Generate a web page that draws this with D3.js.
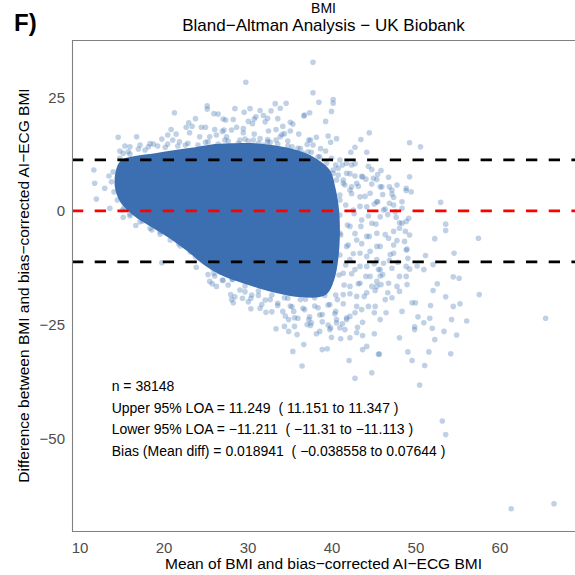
<!DOCTYPE html>
<html>
<head>
<meta charset="utf-8">
<script src="https://cdn.jsdelivr.net/npm/d3@7"></script>
<style>
  html, body { margin: 0; padding: 0; background: #fff; }
  svg { display: block; font-family: "Liberation Sans", Arial, Helvetica, sans-serif; }
</style>
</head>
<body>
<svg id="chart" width="575" height="575"></svg>
<script>
// ---- Bland–Altman data: x = mean of the two BMI measures, y = difference ----

// Outline of the saturated bulk of the 38,148 observations
const coreMean = [14.4, 15.0, 16.6, 19.0, 21.4, 23.8, 26.1, 28.5, 30.9, 33.3, 35.3, 36.8, 38.2, 39.8, 40.5, 40.9,
                  41.0, 40.8, 40.3, 39.3, 36.5, 33.3, 30.3, 27.3, 25.0, 22.8, 20.8, 18.7, 16.5, 14.9, 14.2];
const coreDiff = [9.4, 11.2, 12.1, 12.7, 13.4, 14.0, 14.7, 14.9, 14.9, 14.4, 13.7, 12.8, 11.5, 9.0, 4.8, 0.2,
                  -5.3, -10.7, -15.3, -18.5, -19.0, -18.0, -16.4, -14.5, -12.1, -8.8, -6.1, -3.7, -1.1, 1.8, 5.3];

// Individual observations outside the bulk: [mean, difference]
const upperScatter = [
  [37.8,32.7],[29.8,28.3],[37.8,26.0],[38.5,23.9],[21.3,21.6],[25.2,23.1],[25.2,22.4],[28.5,22.5],[29.6,21.7],[30.3,22.5],
  [31.5,22.1],[32.8,22.0],[33.3,23.6],[33.9,22.6],[34.6,23.7],[37.4,21.6],[36.8,21.1],[26.0,21.4],[27.1,20.2],[27.4,20.0],
  [28.3,20.1],[30.1,19.7],[30.8,20.2],[31.9,21.0],[32.4,20.4],[33.6,20.3],[35.1,19.5],[35.4,19.1],[23.8,20.3],[23.0,19.4],
  [22.7,18.4],[23.4,18.6],[24.5,18.4],[20.9,17.9],[21.5,16.9],[14.6,16.2],[16.8,16.3],[19.8,15.8],[26.1,17.9],[27.2,17.8],
  [28.1,17.8],[29.5,17.2],[30.8,16.9],[32.5,17.6],[33.4,17.9],[34.1,16.8],[35.1,17.6],[36.1,16.9],[37.3,15.6],[38.2,16.2],
  [40.2,24.5],[40.2,23.7],[40.0,21.9],[36.7,20.9],[39.3,19.7],[40.6,15.9],[39.9,15.1],[39.6,16.5],
  [26.5,21.3],[31.0,20.7],[32.1,19.6],[25.0,18.4],[27.0,17.5],[28.7,18.4],[29.5,18.1],[30.6,19.2],[23.1,17.2],[20.5,16.7],
  [18.4,14.8],[18.8,14.7],[15.4,14.3],[16.0,14.1],[14.8,13.2],[15.2,12.7],[17.2,14.5],[21.1,15.6],[21.9,15.2],[24.3,16.3],
  [25.5,16.3],[26.3,16.7],[27.5,16.3],[29.1,15.6],[30.7,15.6],[31.5,15.9],[31.9,14.5],
  [34.2,18.6],[34.4,17.0],[33.9,16.3],[32.4,15.7],[33.4,15.6],[37.5,15.6],[37.1,14.6],[37.8,14.5],[38.7,13.7],[39.3,13.2],
  [36.3,13.7],[35.3,14.1],[36.6,12.7],[38.6,11.9],[40.0,11.6],[41.0,11.2],[41.8,10.5],[42.4,10.1],[40.5,10.1],[40.8,9.4],
  [20.2,14.0],[22.6,14.5],[25.0,15.1],[27.3,15.6],[29.7,15.8],[32.7,15.1],[34.8,15.4],[37.6,12.9],[17.8,13.4],[16.0,12.5]
];

// Points crowding the upper edge of the bulk
const upperEdge = [
  [14.8,11.6],[15.8,13.0],[17.0,13.6],[18.2,14.1],[19.3,14.3],[20.5,14.7],[21.7,14.3],[22.9,14.9],[24.1,14.5],[25.3,15.2],
  [26.5,14.7],[27.7,15.4],[28.9,14.9],[30.1,15.4],[31.3,14.9],[32.4,15.2],[33.6,14.7],[34.8,14.3],[36.0,13.8],[37.2,13.0],
  [38.4,11.9],[39.4,10.5],[40.2,9.0]
];

const leftScatter = [
  [11.7,9.0],[11.8,6.1],[12.0,2.6],[13.0,5.0],[13.6,0.6],[13.5,7.7],[15.2,-1.4],[16.7,-3.2],[18.6,-4.2],
  [14.0,8.6],[13.8,6.4],[14.1,4.2],[14.5,2.4],[15.3,0.7],[16.0,-0.7],[17.5,-2.2],[19.6,-4.6],[21.8,-7.2],[23.8,-10.1],
  [25.9,-12.7],[28.2,-15.1]
];

// Points crowding the lower (diagonal) edge of the bulk
const lowerEdge = [
  [15.1,0.2],[16.0,-1.1],[17.2,-2.4],[18.4,-3.8],[19.6,-5.1],[20.8,-6.4],[22.0,-7.7],[23.2,-9.0],[24.3,-10.4],[25.5,-11.9],
  [26.7,-13.4],[28.2,-15.0],[29.7,-16.5],[31.3,-17.6],[32.9,-18.5],[34.8,-19.2],[36.9,-19.4],
  [27.7,-16.3],[29.1,-17.4],[30.5,-18.5],[32.1,-19.6],[33.6,-20.3],[35.1,-20.9],[36.6,-21.4],[38.0,-20.9],[28.5,-18.9],
  [30.1,-20.0],[31.5,-21.4],[32.9,-22.2],[34.5,-23.1],[36.0,-23.6],[37.4,-23.3],[38.9,-24.4],[27.0,-15.2],[26.1,-14.3]
];

const lowerScatter = [
  [19.8,-11.4],[23.9,-12.4],[25.5,-15.5],[26.3,-16.6],[27.1,-15.3],[28.1,-19.5],[28.3,-20.2],[30.4,-21.5],[32.2,-22.3],[33.4,-25.9],
  [34.4,-25.4],[34.9,-26.5],[35.6,-25.4],[35.9,-27.2],[35.4,-30.9],[36.7,-29.4],[36.5,-34.1],[37.1,-25.0],[37.3,-23.9],[34.9,-23.9],
  [35.6,-23.5],[37.5,-25.2],[38.2,-27.0],[38.9,-30.5],[39.5,-30.3],[42.1,-32.9],[42.8,-36.8],[44.8,-35.6],[43.7,-30.5],[44.2,-29.8],
  [45.6,-31.5],[41.1,-28.1],[42.2,-27.9],[30.4,-19.2],[29.4,-19.2],[25.8,-16.0],[25.3,-14.0],[26.0,-13.7],[28.0,-18.4],[34.2,-22.1],
  [35.5,-22.1],[39.8,-26.1],[41.0,-25.7],[41.6,-26.1],[40.6,-23.9],[41.8,-23.9],[43.0,-26.8],[43.7,-27.4],[45.1,-27.0],[45.7,-31.5],
  [40.0,-27.8],[43.1,-25.6],[43.7,-24.5],[45.8,-23.9],[45.1,-22.4],[46.5,-22.4],[48.4,-22.1],[49.6,-20.2],
  [45.2,-21.0],[44.4,-21.0],[43.6,-21.7],[42.8,-22.4],[41.8,-23.5],[40.6,-24.6],[39.9,-25.7],[38.6,-26.5],[37.6,-24.6],
  [29.7,-17.8],[31.3,-18.6],[32.7,-19.5],[34.4,-19.1],[36.3,-19.5],[38.0,-19.1],[39.2,-18.6],[31.7,-20.6],[33.6,-20.8],
  [35.3,-21.1],[36.8,-21.7],[38.4,-21.3],[39.8,-20.6],[40.7,-19.5],[40.5,-22.1],[38.9,-22.8],
  [53.2,-46.2],[53.6,-49.2],[61.4,-65.5],[66.5,-64.4]
];

// Crowded band just right of the bulk
const rightEdge = [
  [41.3,10.1],[42.8,10.4],[44.4,9.8],[40.8,7.9],[42.2,8.2],[43.6,7.6],[45.5,8.0],[41.6,5.7],[43.2,5.4],[44.8,5.9],
  [41.0,3.5],[42.4,3.8],[44.0,3.2],[46.1,3.6],[41.7,1.3],[43.4,1.0],[45.1,1.5],[41.0,-0.9],[42.7,-0.6],[44.4,-1.1],
  [46.7,-0.8],[41.9,-3.1],[43.5,-3.4],[45.3,-2.9],[41.1,-5.3],[42.8,-5.0],[44.5,-5.6],[46.4,-5.2],[42.0,-7.5],[43.6,-7.2],
  [45.4,-7.8],[41.0,-9.7],[42.6,-9.4],[44.2,-10.0],[47.0,-9.6],[41.7,-11.9],[43.4,-12.2],[45.1,-11.6],[40.9,-14.1],[42.4,-13.8],
  [44.1,-14.4],[46.1,-14.0],[41.5,-16.3],[43.2,-16.0],[44.8,-16.6],[40.5,-18.5],[42.2,-18.2],[43.9,-18.8],[39.6,-20.7],[41.4,-20.4],
  [43.0,-21.0],[38.6,-22.9],[40.4,-22.6],[42.2,-23.2],[39.6,-25.1],[41.3,-24.8]
];

const rightScatter = [
  [49.3,15.0],[50.6,14.1],[42.8,14.0],[42.3,12.9],[44.2,12.9],[44.8,9.1],[45.9,8.9],[46.8,7.4],[49.3,7.5],[45.4,6.9],
  [44.1,7.0],[46.0,5.3],[47.2,4.6],[47.2,3.7],[47.4,3.0],[48.9,4.5],[49.5,4.2],[48.4,2.0],[53.0,1.9],[46.4,0.4],
  [45.5,2.0],[53.6,-2.9],[53.6,-4.3],[57.5,-6.0],[47.7,-1.4],[48.1,-2.6],[49.2,-1.6],[52.3,-6.1],[54.6,-9.3],[51.2,-9.8],
  [52.1,-11.8],[51.0,-12.9],[54.5,-14.5],[55.2,-14.8],[52.6,-16.0],[52.1,-17.5],[57.6,-18.4],[53.6,-18.9],[54.5,-21.0],[55.3,-20.4],
  [51.8,-20.8],[50.0,-20.2],[50.3,-23.3],[51.7,-23.6],[54.3,-23.9],[56.1,-24.2],[65.5,-23.6],[51.0,-24.6],[49.9,-25.5],[49.9,-26.1],
  [52.0,-25.8],[53.4,-26.5],[54.9,-27.3],[52.3,-28.3],[48.1,-27.9],[49.1,-31.0],[51.6,-31.0],[54.2,-31.4],[49.6,-32.9],[51.1,-34.0],
  [50.5,-38.3],
  [47.8,-16.6],[48.1,-14.4],[48.9,-12.2],[49.1,-10.4],[48.9,-8.6],[48.7,-6.7],[49.3,-5.3],[48.1,-3.8],[48.9,-2.3],[48.4,0.6],
  [47.6,-0.2],[46.8,-6.0],[47.4,-9.3],[46.2,-11.5],[45.6,-12.9],[45.4,-15.5],[45.9,-16.2],[46.7,-18.0],[47.2,-19.1],[46.4,-19.5],
  [44.5,17.2],[43.5,15.7],
  [46.9,5.3],[47.8,5.7],[48.9,5.0],[41.8,8.3],[42.8,7.7],[42.4,5.3],[41.4,6.1],[40.6,6.8],[46.9,1.7],[47.4,1.3],
  [46.2,0.2],[48.4,-2.7],[47.4,-4.5],[48.8,-4.5],[47.8,-6.5],[49.0,-8.4],[47.4,-7.5],[46.9,-10.9],[47.9,-11.3],[50.2,-12.1],
  [49.3,-12.8],[48.9,-14.4],[49.0,-16.2],[47.2,-12.6],[46.8,-15.9],[45.8,-14.3],[48.1,-17.7],[45.2,-17.5],
  [40.2,8.3],[41.4,6.8],[43.0,6.1],[43.7,7.5],[45.0,7.2],[45.8,5.3],[44.6,3.9],[43.4,3.1],[42.2,4.6],[41.0,2.4],
  [45.4,2.0],[44.2,0.9],[42.6,0.2],[45.8,-1.3],[44.8,-2.7],[43.6,-2.0],[42.2,-3.4],[41.0,-4.9],[45.4,-4.9],[44.2,-5.6],
  [43.0,-6.4],[41.8,-7.8],[45.8,-7.8],[44.6,-8.9],[43.4,-9.3],[42.2,-10.7],[45.4,-10.7],[44.2,-12.2],[42.8,-12.9],[41.4,-13.7],
  [45.8,-12.9],[44.6,-14.4],[43.4,-15.9],[42.2,-16.6],[45.4,-16.6],[44.2,-18.0],[43.0,-18.8],[41.4,-18.4]
];

// Summary statistics
const nObs = 38148;
const upperLOA = 11.249, upperLOAci = [11.151, 11.347];
const lowerLOA = -11.211, lowerLOAci = [-11.31, -11.113];
const meanDiff = 0.018941, meanDiffCi = [-0.038558, 0.07644];

// Axis ticks
const xTicks = [10, 20, 30, 40, 50, 60];
const yTicks = [25, 0, -25, -50];

// ---- layout ----
const svg = d3.select('#chart');
const panel = { left: 72, top: 40, right: 575, bottom: 531 };
const x = d3.scaleLinear().domain([9.1, 69.0]).range([panel.left, panel.right]);
const y = d3.scaleLinear().domain([-70.4, 37.6]).range([panel.bottom, panel.top]);
const pointColor = '#3b6fb1';
const minus = v => String(v).replace('-', '\u2212');

svg.append('defs').append('clipPath').attr('id', 'panelClip')
  .append('rect')
  .attr('x', panel.left).attr('y', panel.top)
  .attr('width', panel.right - panel.left + 10).attr('height', panel.bottom - panel.top);

const plot = svg.append('g').attr('clip-path', 'url(#panelClip)');

// saturated bulk of overlapping points
plot.append('path')
  .datum(d3.zip(coreMean, coreDiff))
  .attr('d', d3.line().x(d => x(d[0])).y(d => y(d[1])).curve(d3.curveCatmullRomClosed.alpha(0.5)))
  .attr('fill', pointColor);

// individual semi-transparent points
const scatter = [...upperScatter, ...upperEdge, ...leftScatter, ...lowerEdge, ...lowerScatter, ...rightEdge, ...rightScatter];
plot.append('g').selectAll('circle').data(scatter).join('circle')
  .attr('cx', d => x(d[0]))
  .attr('cy', d => y(d[1]))
  .attr('r', 2.8)
  .attr('fill', pointColor)
  .attr('fill-opacity', 0.32);

// bias and limits of agreement
const refLines = [
  { value: upperLOA, color: '#000000' },
  { value: meanDiff, color: '#ff0000' },
  { value: lowerLOA, color: '#000000' }
];
plot.append('g').selectAll('line').data(refLines).join('line')
  .attr('x1', panel.left).attr('x2', panel.right + 10)
  .attr('y1', d => y(d.value)).attr('y2', d => y(d.value))
  .attr('stroke', d => d.color)
  .attr('stroke-width', 2.8)
  .attr('stroke-dasharray', '11.3 11.4');

// panel border (left, top, bottom)
svg.append('path')
  .attr('d', `M${panel.right + 5},${panel.top + 0.5}H${panel.left + 0.5}V${panel.bottom + 0.5}H${panel.right + 5}`)
  .attr('fill', 'none')
  .attr('stroke', '#808080')
  .attr('stroke-width', 1.1);

// axes
const xAxis = svg.append('g')
  .attr('transform', `translate(0,${panel.bottom})`)
  .call(d3.axisBottom(x).tickValues(xTicks).tickSize(0).tickPadding(11.5));
const yAxis = svg.append('g')
  .attr('transform', `translate(${panel.left},0)`)
  .call(d3.axisLeft(y).tickValues(yTicks).tickSize(0).tickPadding(7));
[xAxis, yAxis].forEach(g => {
  g.select('.domain').remove();
  g.selectAll('text')
    .attr('fill', '#4d4d4d')
    .style('font-size', '15px')
    .style('font-family', '"Liberation Sans", Arial, Helvetica, sans-serif');
});

// titles
const cx = (panel.left + panel.right) / 2;
svg.append('text').attr('x', 14).attr('y', 31)
  .style('font-size', '24px').style('font-weight', 'bold').text('F)');
svg.append('text').attr('x', cx).attr('y', 12.8).attr('text-anchor', 'middle')
  .style('font-size', '14px').text('BMI');
svg.append('text').attr('x', cx).attr('y', 30.8).attr('text-anchor', 'middle')
  .style('font-size', '17px').text('Bland\u2212Altman Analysis \u2212 UK Biobank');
svg.append('text').attr('x', cx).attr('y', 569).attr('text-anchor', 'middle')
  .style('font-size', '15.5px').text('Mean of BMI and bias\u2212corrected AI\u2212ECG BMI');
svg.append('text')
  .attr('transform', `translate(29,${(panel.top + panel.bottom) / 2}) rotate(-90)`)
  .attr('text-anchor', 'middle')
  .style('font-size', '15.5px')
  .text('Difference between BMI and bias\u2212corrected AI\u2212ECG BMI');

// statistics annotation
const notes = [
  `n = ${nObs}`,
  `Upper 95% LOA = ${minus(upperLOA)}  ( ${minus(upperLOAci[0])} to ${minus(upperLOAci[1])} )`,
  `Lower 95% LOA = ${minus(lowerLOA)}  ( ${minus(lowerLOAci[0])} to ${minus(lowerLOAci[1])} )`,
  `Bias (Mean diff) = ${minus(meanDiff)}  ( ${minus(meanDiffCi[0])} to ${minus(meanDiffCi[1])} )`
];
svg.append('g').selectAll('text').data(notes).join('text')
  .attr('x', 111.7)
  .attr('y', (d, i) => 391 + i * 21.5)
  .style('font-size', '14px')
  .style('white-space', 'pre')
  .text(d => d);
</script>
</body>
</html>
